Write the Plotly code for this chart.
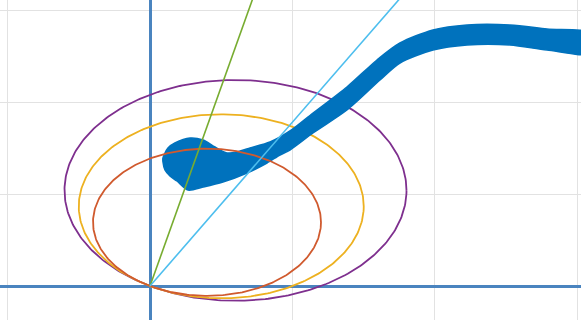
import numpy as np
import plotly.graph_objects as go

# Thick noisy trajectory: outline of the band (upper edge left->right, lower edge left->right)
band_upper_x = [0.091, 0.126, 0.175, 0.281, 0.372, 0.456, 0.540, 0.632, 0.702, 0.842,
                0.982, 1.144, 1.382, 1.593, 1.754, 1.986, 2.225, 2.526, 2.786, 3.100]
band_upper_y = [1.391, 1.500, 1.554, 1.609, 1.587, 1.511, 1.446, 1.467, 1.500, 1.565,
                1.685, 1.880, 2.163, 2.457, 2.641, 2.783, 2.837, 2.837, 2.793, 2.745]
band_lower_x = [0.091, 0.105, 0.140, 0.189, 0.267, 0.372, 0.512, 0.681, 0.821, 0.912,
                0.982, 1.144, 1.382, 1.614, 1.754, 1.986, 2.225, 2.526, 2.786, 3.100]
band_lower_y = [1.348, 1.261, 1.196, 1.141, 1.043, 1.076, 1.130, 1.228, 1.337, 1.424,
                1.478, 1.663, 1.913, 2.239, 2.424, 2.565, 2.620, 2.620, 2.565, 2.528]

# Circles through the origin, centred on the 60 degree ray
circle_radii = [0.8, 1.0, 1.2]
circle_colors = ["#D05A2E", "#EDB120", "#7E2F8E"]
circle_center_angle_deg = 60.0

# Rays from the origin
ray_angles_deg = [77.0, 60.7]
ray_colors = ["#77AC30", "#4DBEEE"]
ray_length = 4.0

x_range = [-1.0526, 3.0246]
y_range = [-0.3696, 3.1087]

fig = go.Figure()


def circle_trace(r, color):
    a = np.deg2rad(circle_center_angle_deg)
    cx, cy = r * np.cos(a), r * np.sin(a)
    t = np.linspace(0, 2 * np.pi, 361)
    return go.Scatter(x=cx + r * np.cos(t), y=cy + r * np.sin(t), mode="lines",
                      line=dict(color=color, width=1.8), hoverinfo="skip")


# purple and yellow circles sit beneath the band
fig.add_trace(circle_trace(circle_radii[2], circle_colors[2]))
fig.add_trace(circle_trace(circle_radii[1], circle_colors[1]))

band_x = band_upper_x + band_lower_x[::-1] + [band_upper_x[0]]
band_y = band_upper_y + band_lower_y[::-1] + [band_upper_y[0]]
fig.add_trace(go.Scatter(x=band_x, y=band_y, mode="lines", fill="toself",
                         fillcolor="#0072BD",
                         line=dict(color="#0072BD", width=1.5, shape="spline", smoothing=0.8),
                         hoverinfo="skip"))

fig.add_trace(circle_trace(circle_radii[0], circle_colors[0]))

for ang, col in zip(ray_angles_deg, ray_colors):
    a = np.deg2rad(ang)
    fig.add_trace(go.Scatter(x=[0, ray_length * np.cos(a)], y=[0, ray_length * np.sin(a)],
                             mode="lines", line=dict(color=col, width=1.6), hoverinfo="skip"))

axis_common = dict(showticklabels=False, ticks="", showline=False,
                   showgrid=True, gridcolor="#e2e2e2", gridwidth=1,
                   zeroline=True, zerolinecolor="#4a84bf", zerolinewidth=2.5,
                   dtick=1, tick0=0)

fig.update_layout(
    width=581, height=320,
    margin=dict(l=0, r=0, t=0, b=0),
    paper_bgcolor="white", plot_bgcolor="white",
    showlegend=False,
    xaxis=dict(range=x_range, **axis_common),
    yaxis=dict(range=y_range, **axis_common),
)

fig.write_html("out.html")
